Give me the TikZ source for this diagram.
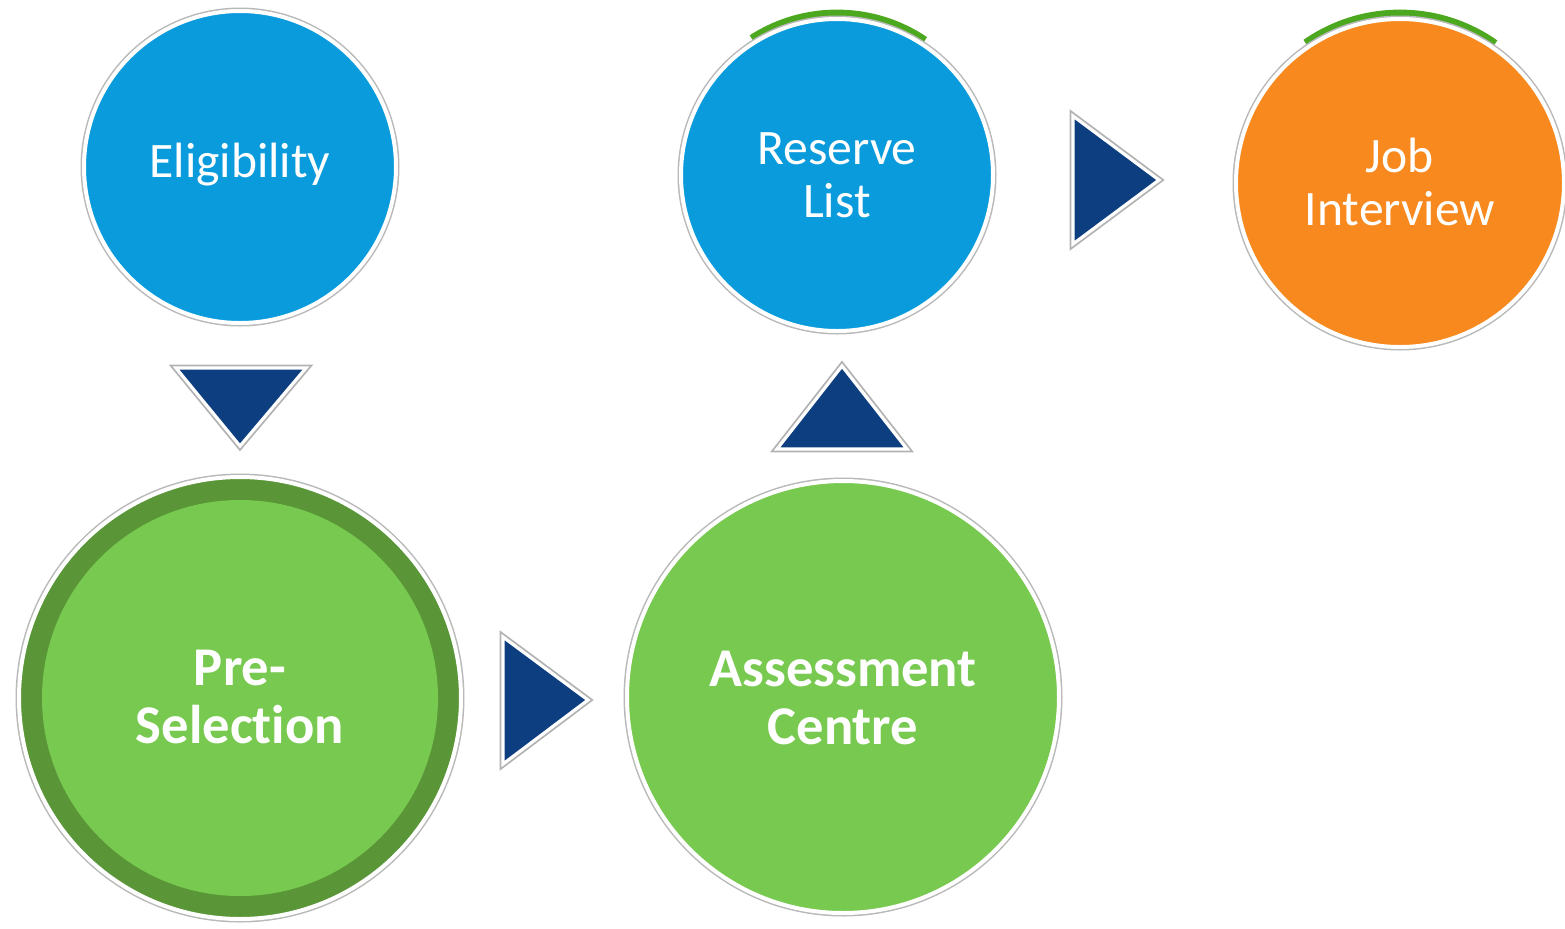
\documentclass[tikz,border=0pt]{standalone}
\usepackage{fontspec}
\setmainfont[Ligatures=NoCommon]{Carlito}
\definecolor{cblue}{HTML}{0A9BDC}
\definecolor{corange}{HTML}{F7891F}
\definecolor{cgreen}{HTML}{78C94F}
\definecolor{cdark}{HTML}{5A9638}
\definecolor{tblue}{HTML}{0D3E80}
\definecolor{arcgreen}{HTML}{4CA81E}
\begin{document}
\begin{tikzpicture}[x=0.5pt,y=-0.5pt,
  bubble/.style={circle, inner sep=0pt, text=white, align=center,
    preaction={draw=gray!55, line width=3.5pt},
    draw=white, line width=2pt},
  tri/.style={fill=tblue, draw=white, line width=1.6pt, line join=miter,
    preaction={draw=gray!60, line width=3.4pt}},
  lbl/.style={font=\fontsize{24.8}{26.5}\selectfont},
  blbl/.style={font=\fontsize{27.3}{29}\selectfont\bfseries}
]
\useasboundingbox (0,0) rectangle (1565,928);

% thin green crescents behind the tops of the upper right circles
\coordinate (resc) at (837,175);
\coordinate (jobc) at (1400,183);
\begin{scope}
  \clip (resc) -- ++(122:120pt) -- ++(0:130pt) -- cycle;
  \fill[arcgreen] (resc) ++(0,-2.2pt*-1) circle (80.5pt);
\end{scope}
\begin{scope}
  \clip (jobc) -- ++(124:120pt) -- ++(0:135pt) -- cycle;
  \fill[arcgreen] (jobc) ++(0,-2.2pt*-1) circle (84.5pt);
\end{scope}

\node[bubble, fill=cblue, minimum size=156pt] (elig) at (240,167) {};
\node[lbl, text=white] at (240,165) {Eligibility};

\node[bubble, fill=cdark, minimum size=221pt] (pre) at (240,698) {};
\fill[cgreen] (pre.center) circle (99pt);
\node[blbl, text=white, align=center] at (240,697) {Pre-\\Selection};

\node[bubble, fill=cgreen, minimum size=216pt] (ac) at (843,697) {};
\node[blbl, text=white, align=center] at (843,698) {Assessment\\Centre};

\node[bubble, fill=cblue, minimum size=156pt] (res) at (resc) {};
\node[lbl, text=white, align=center] at (837,175) {Reserve\\List};

\node[bubble, fill=corange, minimum size=164pt] (job) at (jobc) {};
\node[lbl, text=white, align=center] at (1400,182) {Job\\Interview};

% triangles (arrows between stages)
\draw[tri] (176,368) -- (306,368) -- (240,446) -- cycle;
\draw[tri] (503,637) -- (588,700) -- (503,764) -- cycle;
\draw[tri] (777,449) -- (907,449) -- (842,366) -- cycle;
\draw[tri] (1073,116) -- (1159,180) -- (1073,244) -- cycle;
\end{tikzpicture}
\end{document}
